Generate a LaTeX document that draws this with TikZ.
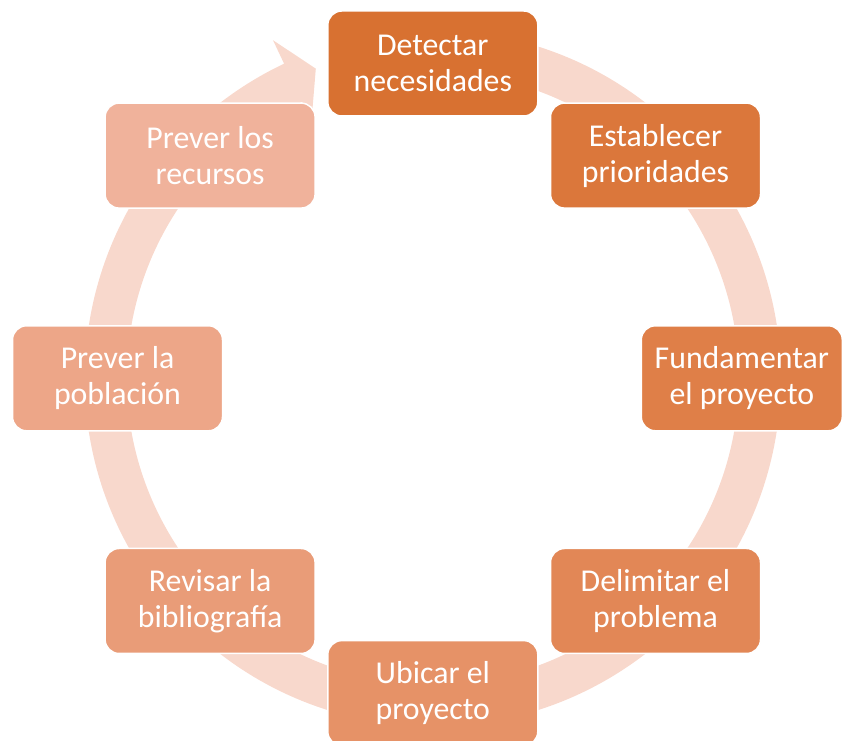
\documentclass[tikz,border=0pt]{standalone}
\usepackage{fontspec}
\setmainfont{Carlito}
\definecolor{ringc}{HTML}{F8D8CC}
\definecolor{cA}{HTML}{D87131}
\definecolor{cB}{HTML}{DB773B}
\definecolor{cC}{HTML}{DF7F48}
\definecolor{cD}{HTML}{E28756}
\definecolor{cE}{HTML}{E69267}
\definecolor{cF}{HTML}{E99C78}
\definecolor{cG}{HTML}{EDA688}
\definecolor{cH}{HTML}{F0B29B}
\tikzset{
  stepbox/.style={rounded corners=14pt, minimum width=210pt, minimum height=105pt,
    draw=white, line width=1.5pt, text=white, align=center, inner sep=0pt,
    font=\fontsize{31.8}{36}\selectfont},
}
\begin{document}
\begin{tikzpicture}[x=1pt,y=1pt]
\useasboundingbox (0,0) rectangle (844,741);
\clip (0,0) rectangle (844,741);
\coordinate (c) at (432.8,362.7);
% ring arrow
\begin{scope}[shift={(c)}]
\fill[ringc] (80:348pt) arc[start angle=80, end angle=-244.7, radius=348pt]
  -- (115.3:374pt) -- (110.7:331pt) -- (115.3:284pt) -- (115.3:306pt)
  arc[start angle=-244.7, end angle=80, radius=306pt] -- cycle;
\end{scope}
% boxes
\node[stepbox, fill=cA] (n1) at (432.8,677.5) {Detectar\\necesidades};
\node[stepbox, fill=cB] (n2) at (655.5,585.4) {Establecer\\prioridades};
\node[stepbox, fill=cC, minimum width=201pt] (n3) at (741.8,362.7) {Fundamentar\\el proyecto};
\node[stepbox, fill=cD] (n4) at (655.5,140.0) {Delimitar el\\problema};
\node[stepbox, fill=cE] (n5) at (432.8,47.9) {Ubicar el\\proyecto};
\node[stepbox, fill=cF] (n6) at (210.1,140.0) {Revisar la\\bibliografía};
\node[stepbox, fill=cG] (n7) at (117.5,362.7) {Prever la\\población};
\node[stepbox, fill=cH] (n8) at (210.1,585.4) {Prever los\\recursos};
\end{tikzpicture}
\end{document}
